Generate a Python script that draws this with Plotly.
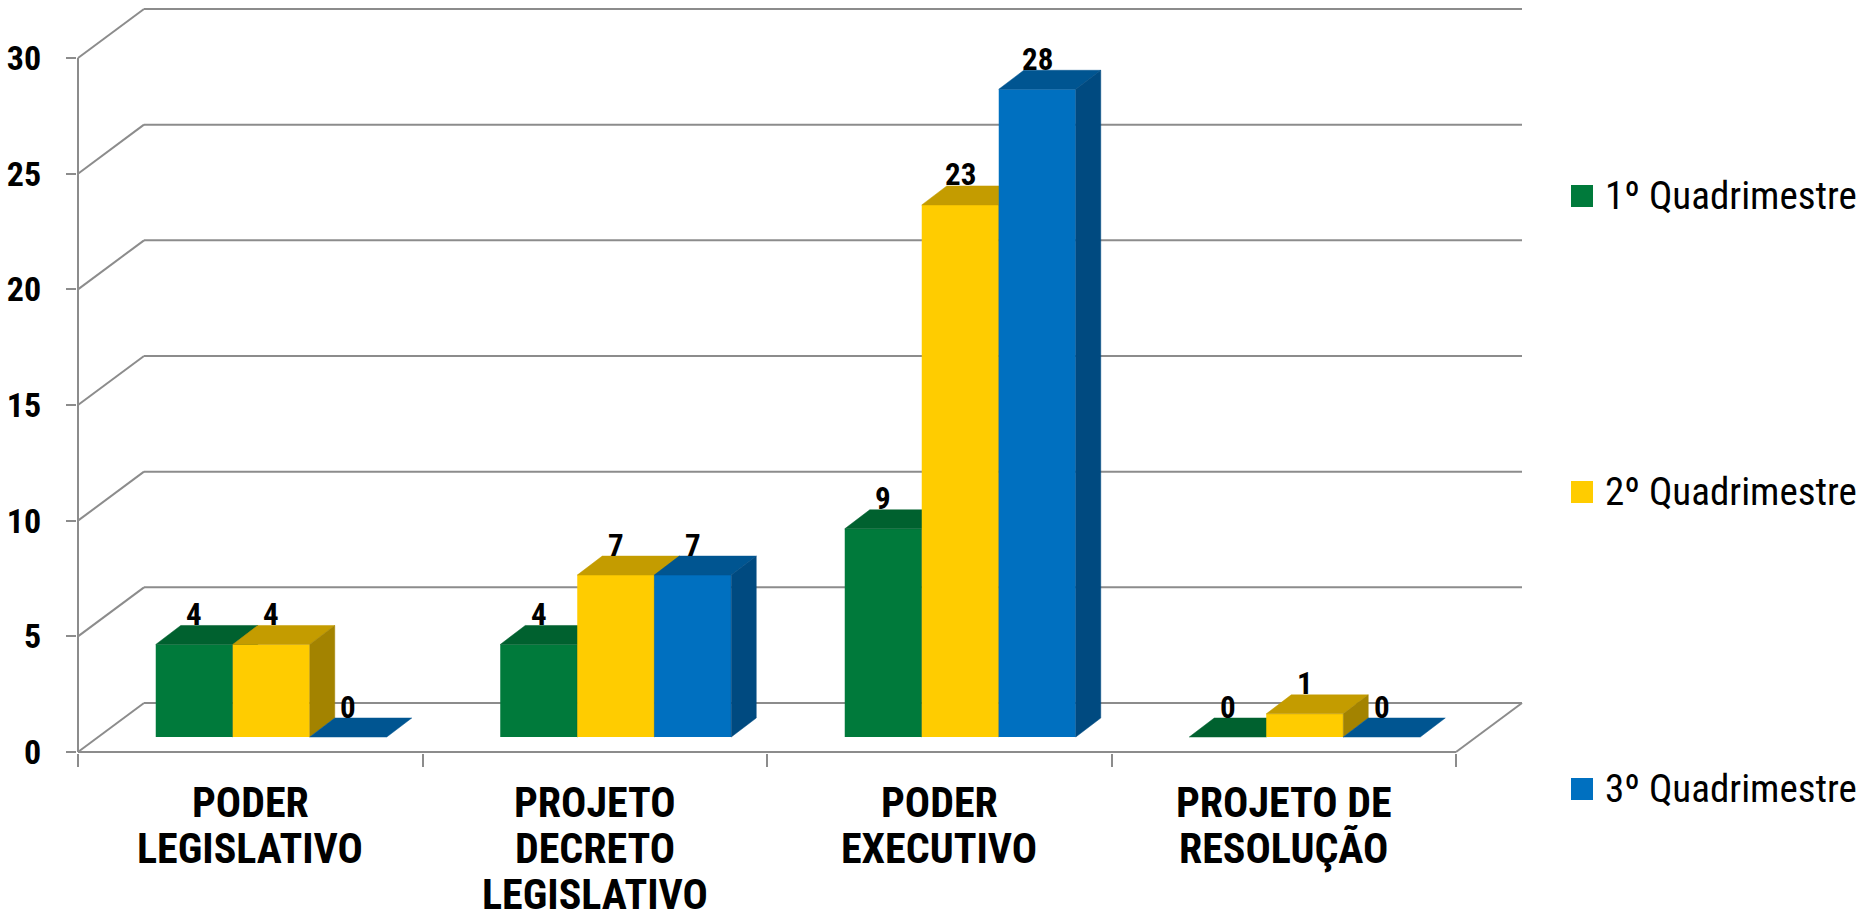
import plotly.graph_objects as go

# ---------------- data ----------------
categories = ["PODER<br>LEGISLATIVO", "PROJETO<br>DECRETO<br>LEGISLATIVO",
              "PODER<br>EXECUTIVO", "PROJETO DE<br>RESOLUÇÃO"]
series_names = ["1º Quadrimestre", "2º Quadrimestre", "3º Quadrimestre"]
q1_values = [4, 4, 9, 0]
q2_values = [4, 7, 23, 1]
q3_values = [0, 7, 28, 0]
y_tick_values = [0, 5, 10, 15, 20, 25, 30]

# ---------------- style ----------------
front_colors = ["#007A3B", "#FFCC00", "#0070C0"]
top_colors = ["#00612F", "#C49C00", "#005591"]
side_colors = ["#00512A", "#A38300", "#004A80"]
grid_color = "#8C8C8C"
FONT = "Roboto, Liberation Sans, sans-serif"


def cond(t):
    return "<span style='font-stretch:condensed'>" + t + "</span>"


W_FIG, H_FIG = 1868, 920
PX_LEFT, PX_RIGHT, PX_TOP, PX_BOTTOM = 77, 1532, 4, 753
X0_PX, Y0_PX = 78, 752          # pixel of category edge -0.5 / value 0
PXC, PXU = 344.5, 23.133        # px per category / px per unit

# 3-D projection offsets (category units, value units)
DXW, DYW = 66 / PXC, 49 / PXU    # whole floor depth
DXB, DYB = 21 / PXC, 15 / PXU    # bar plane behind the front edge
DXD, DYD = 25 / PXC, 19 / PXU    # bar depth
BW = 77 / PXC                    # bar width

x_range = [-0.5 - (X0_PX - PX_LEFT) / PXC, -0.5 + (PX_RIGHT - X0_PX) / PXC]
y_range = [-(PX_BOTTOM - Y0_PX) / PXU, (Y0_PX - PX_TOP) / PXU]


def xp(px):
    return (px - PX_LEFT) / (PX_RIGHT - PX_LEFT)


def yp(px):
    return (PX_BOTTOM - px) / (PX_BOTTOM - PX_TOP)


fig = go.Figure()
all_series = [q1_values, q2_values, q3_values]
n_cat = len(categories)

annotations = []
for k, (name, vals) in enumerate(zip(series_names, all_series)):
    lefts = [i - 1.5 * BW + DXB + k * BW for i in range(n_cat)]
    # front faces
    fig.add_trace(go.Bar(
        x=[xl + BW / 2 for xl in lefts], y=vals, base=DYB, width=BW,
        marker=dict(color=front_colors[k], line=dict(width=0)),
        name=name, showlegend=False, zorder=k + 1,
        hovertemplate=name + ": %{y}<extra></extra>",
    ))
    # top faces
    tx, ty = [], []
    for xl, v in zip(lefts, vals):
        h = DYB + v
        tx += [xl, xl + BW, xl + BW + DXD, xl + DXD, xl, None]
        ty += [h, h, h + DYD, h + DYD, h, None]
    fig.add_trace(go.Scatter(
        x=tx, y=ty, fill="toself", fillcolor=top_colors[k], mode="lines",
        line=dict(width=0.5, color=top_colors[k]), showlegend=False,
        hoverinfo="skip", zorder=k + 1,
    ))
    # side faces
    sx, sy = [], []
    for xl, v in zip(lefts, vals):
        if v <= 0:
            continue
        xr = xl + BW
        sx += [xr, xr, xr + DXD, xr + DXD, xr, None]
        sy += [DYB, DYB + v, DYB + v + DYD, DYB + DYD, DYB, None]
    if sx:
        fig.add_trace(go.Scatter(
            x=sx, y=sy, fill="toself", fillcolor=side_colors[k], mode="lines",
            line=dict(width=0.5, color=side_colors[k]), showlegend=False,
            hoverinfo="skip", zorder=k + 1,
        ))
    # data labels
    for xl, v in zip(lefts, vals):
        annotations.append(dict(
            x=xl + BW / 2, y=DYB + v + DYD, xref="x", yref="y",
            text=cond(str(v)), showarrow=False, yanchor="middle", yshift=11,
            font=dict(family=FONT, size=31, color="black", weight="bold"),
        ))

# back wall / side wall grid lines
shapes = []
for v in y_tick_values:
    shapes.append(dict(type="line", xref="x", yref="y", x0=-0.5, y0=v,
                       x1=-0.5 + DXW, y1=v + DYW, layer="below",
                       line=dict(color=grid_color, width=2)))
    shapes.append(dict(type="line", xref="x", yref="y", x0=-0.5 + DXW, y0=v + DYW,
                       x1=n_cat - 0.5 + DXW, y1=v + DYW, layer="below",
                       line=dict(color=grid_color, width=2)))
# floor edges and value axis line
shapes.append(dict(type="line", xref="x", yref="y", x0=-0.5, y0=0, x1=n_cat - 0.5, y1=0,
                   layer="below", line=dict(color=grid_color, width=2)))
shapes.append(dict(type="line", xref="x", yref="y", x0=n_cat - 0.5, y0=0,
                   x1=n_cat - 0.5 + DXW, y1=DYW, layer="below",
                   line=dict(color=grid_color, width=2)))
shapes.append(dict(type="line", xref="x", yref="y", x0=-0.5, y0=0, x1=-0.5,
                   y1=y_tick_values[-1], layer="below",
                   line=dict(color=grid_color, width=2)))

# category labels (one annotation per line)
for i, cat in enumerate(categories):
    for j, line in enumerate(cat.split("<br>")):
        annotations.append(dict(
            x=i, y=0, xref="x", yref="y", text=cond(line), showarrow=False,
            yanchor="middle", yshift=-50 - 46 * j,
            font=dict(family=FONT, size=42, color="black", weight="bold"),
        ))

# legend (drawn manually to match the large square keys)
legend_centers = [196, 492, 789]
for k, name in enumerate(series_names):
    cy = legend_centers[k]
    shapes.append(dict(type="rect", xref="paper", yref="paper",
                       x0=xp(1571), x1=xp(1593), y0=yp(cy + 11), y1=yp(cy - 11),
                       fillcolor=front_colors[k], line=dict(width=0)))
    annotations.append(dict(
        x=xp(1603), y=yp(cy), xref="paper", yref="paper", text=cond(name),
        showarrow=False, xanchor="left", yanchor="middle",
        font=dict(family=FONT, size=39, color="black"),
    ))

fig.update_layout(
    width=W_FIG, height=H_FIG,
    margin=dict(l=PX_LEFT, r=W_FIG - PX_RIGHT, t=PX_TOP, b=H_FIG - PX_BOTTOM, pad=0),
    paper_bgcolor="white", plot_bgcolor="white",
    barmode="overlay", showlegend=False,
    shapes=shapes, annotations=annotations,
    xaxis=dict(range=x_range, showgrid=False, zeroline=False, showline=False,
               tickmode="array", tickvals=[i - 0.5 for i in range(n_cat + 1)],
               ticktext=[""] * (n_cat + 1), ticks="outside", ticklen=13,
               tickwidth=2, tickcolor=grid_color, fixedrange=True),
    yaxis=dict(range=y_range, showgrid=False, zeroline=False, showline=False,
               tickmode="array", tickvals=y_tick_values,
               ticktext=[cond(str(v)) for v in y_tick_values],
               ticks="outside", ticklen=10, tickwidth=2, tickcolor=grid_color,
               ticklabelstandoff=18,
               tickfont=dict(family=FONT, size=34, color="black", weight="bold"),
               fixedrange=True),
)

fig.write_html("out.html", config={"displayModeBar": False},
               post_script="document.body.style.margin='0';")
